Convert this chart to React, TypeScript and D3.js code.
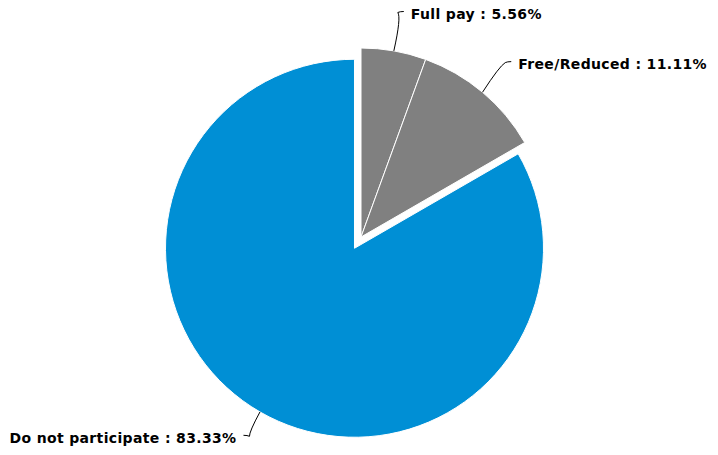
import React from "react";
import * as d3 from "d3";

const categories = ["Full pay", "Free/Reduced", "Do not participate"];
const values = [5.56, 11.11, 83.33];
const colors = ["#808080", "#808080", "#008fd5"];
const sliced = [false, false, true];

const W = 718;
const H = 455;

export default function App() {
  const cx = 361;
  const cy = 237;
  const r = 189;
  const sliceOffset = 13;
  const labelDist = 229;

  const pie = d3.pie<number>().sort(null).value((d) => d);
  const arcs = pie(values);
  const arcGen = d3.arc<d3.PieArcDatum<number>>().innerRadius(0).outerRadius(r);

  return (
    <svg
      width={W}
      height={H}
      style={{ position: "absolute", left: 0, top: 0, background: "#fff" }}
    >
      {arcs.map((a, i) => {
        const mid = (a.startAngle + a.endAngle) / 2;
        const off = sliced[i] ? sliceOffset : 0;
        const ox = cx + Math.sin(mid) * off;
        const oy = cy - Math.cos(mid) * off;
        return (
          <path
            key={"s" + i}
            d={arcGen(a) || ""}
            transform={`translate(${ox},${oy})`}
            fill={colors[i]}
            stroke="#ffffff"
            strokeWidth={1}
            strokeLinejoin="round"
          />
        );
      })}
      {arcs.map((a, i) => {
        const mid = (a.startAngle + a.endAngle) / 2;
        const off = sliced[i] ? sliceOffset : 0;
        const sx = cx + Math.sin(mid) * (r + off);
        const sy = cy - Math.cos(mid) * (r + off);
        const ex = cx + Math.sin(mid) * labelDist;
        const ey = cy - Math.cos(mid) * labelDist;
        const side = Math.sin(mid) >= 0 ? 1 : -1;
        const cxp = ex - side * 3;
        const cyp = ey;
        const path = `M${sx},${sy} Q${(sx + ex) / 2 + side * 4},${ey + (sy - ey) * 0.15} ${cxp},${cyp + 1} Q${ex - side * 1},${ey} ${ex + side * 3},${ey}`;
        const tx = ex + side * 10;
        return (
          <g key={"l" + i}>
            <path d={path} fill="none" stroke="#000" strokeWidth={1} />
            <text
              x={tx}
              y={ey + 2.5}
              dy="0.36em"
              textAnchor={side > 0 ? "start" : "end"}
              fontFamily="'DejaVu Sans', sans-serif"
              fontWeight="bold"
              fontSize={14}
              letterSpacing={0.35}
              fill="#000"
            >
              {`${categories[i]} : ${values[i].toFixed(2)}%`}
            </text>
          </g>
        );
      })}
    </svg>
  );
}
